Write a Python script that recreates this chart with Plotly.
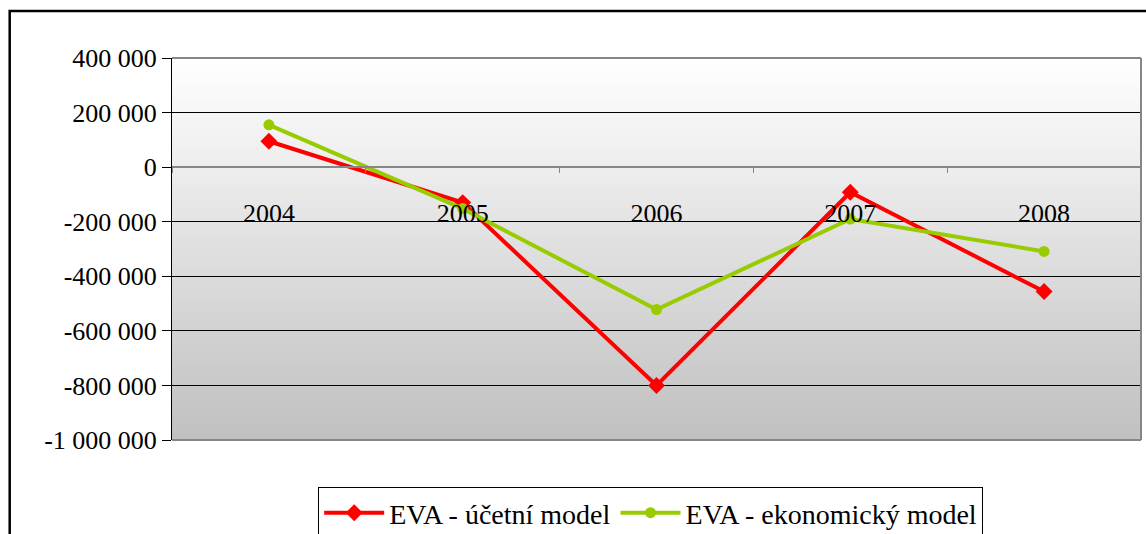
import plotly.graph_objects as go

years = ["2004", "2005", "2006", "2007", "2008"]
eva_ucetni = [95000, -130000, -800000, -92000, -456000]
eva_ekonomicky = [155000, -152000, -522000, -190000, -309000]
name_ucetni = "EVA - účetní model"
name_ekonomicky = "EVA - ekonomický model"
ytick_vals = [400000, 200000, 0, -200000, -400000, -600000, -800000, -1000000]
ytick_text = ["400 000", "200 000", "0", "-200 000", "-400 000", "-600 000", "-800 000", "-1 000 000"]

YMIN, YMAX = -1000000, 400000
FONT = "Liberation Serif"

fig = go.Figure()
fig.add_trace(go.Scatter(
    x=years, y=eva_ucetni, name=name_ucetni, mode="lines+markers",
    line=dict(color="#ff0000", width=4),
    marker=dict(symbol="diamond", size=13, color="#ff0000"),
))
fig.add_trace(go.Scatter(
    x=years, y=eva_ekonomicky, name=name_ekonomicky, mode="lines+markers",
    line=dict(color="#99cc00", width=4),
    marker=dict(symbol="circle", size=11, color="#99cc00"),
))

shapes = []
# gradient background bands
n = 60
for i in range(n):
    t0, t1 = i / n, (i + 1) / n
    tm = (t0 + t1) / 2  # 0 bottom, 1 top
    c = int(round(192 + (255 - 192) * tm))
    shapes.append(dict(type="rect", xref="x domain", yref="y domain",
                       x0=0, x1=1, y0=t0, y1=t1 + 0.002, layer="below",
                       line=dict(width=0), fillcolor=f"rgb({c},{c},{c})"))
# plot border (gray) top, right, bottom
for (x0, y0, x1, y1) in [(0, 1, 1, 1), (1, 0, 1, 1), (0, 0, 1, 0)]:
    shapes.append(dict(type="line", xref="x domain", yref="y domain",
                       x0=x0, y0=y0, x1=x1, y1=y1, layer="above",
                       line=dict(color="#868686", width=2)))
# outer chart border
shapes.append(dict(type="rect", xref="paper", yref="paper",
                   x0=-0.1675, x1=1.2, y0=-0.6, y1=1.123,
                   line=dict(color="#000000", width=2.5), layer="below"))

zero_pos = (0 - YMIN) / (YMAX - YMIN)

fig.update_layout(
    width=1146, height=534,
    margin=dict(l=172, r=5, t=58, b=94, autoexpand=False),
    paper_bgcolor="white", plot_bgcolor="rgba(0,0,0,0)",
    font=dict(family=FONT, size=26, color="black"),
    shapes=shapes,
    showlegend=True,
    legend=dict(orientation="h", x=0.494, xanchor="center", y=-0.123, yanchor="top",
                bordercolor="#000000", borderwidth=1, bgcolor="white",
                font=dict(family=FONT, size=28, color="black"), itemwidth=60,
                tracegroupgap=0),
    xaxis=dict(type="category", categoryorder="array", categoryarray=years,
               anchor="free", position=zero_pos, automargin=False,
               showline=True, linecolor="#868686", linewidth=2,
               showgrid=False, tickson="boundaries", ticks="outside",
               ticklen=5, tickcolor="#868686", tickwidth=1,
               ticklabelstandoff=23, tickfont=dict(family=FONT, size=26, color="black"),
               range=[-0.5, 4.5], zeroline=False),
    yaxis=dict(range=[YMIN, YMAX], tickvals=ytick_vals, ticktext=ytick_text,
               automargin=False,
               showgrid=True, gridcolor="#000000", gridwidth=1,
               zeroline=True, zerolinecolor="#868686", zerolinewidth=2,
               showline=True, linecolor="#000000", linewidth=1,
               ticks="outside", ticklen=9, tickcolor="#000000",
               tickfont=dict(family=FONT, size=26, color="black")),
)

post = """
document.body.style.margin='0';
document.body.style.overflow='hidden';
"""

fig.write_html("out.html", config={"displayModeBar": False}, post_script=post)
